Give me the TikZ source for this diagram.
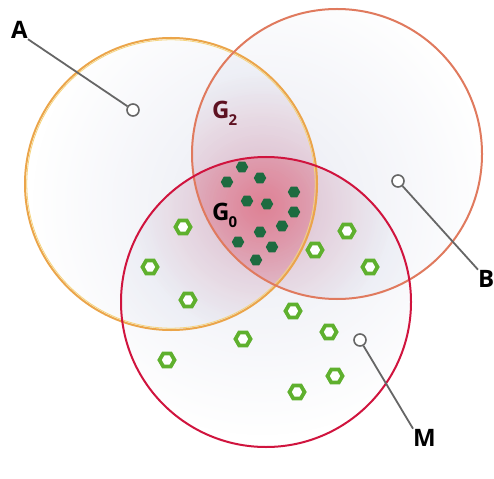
\documentclass[tikz,border=0pt]{standalone}
\usepackage{fontspec}
\setsansfont{Open Sans}
\usetikzlibrary{shapes.geometric,fadings}
\tikzfading[name=softglow, inner color=transparent!0, outer color=transparent!100]
\definecolor{ringA}{HTML}{EBA54A}
\definecolor{ringAin}{HTML}{F5D47E}
\definecolor{ringB}{HTML}{E07A5E}
\definecolor{ringM}{HTML}{D0143E}
\definecolor{lav}{HTML}{C9CDE2}
\definecolor{glowpink}{HTML}{E8485E}
\definecolor{darkdot}{HTML}{1D6B40}
\definecolor{lightdot}{HTML}{5FB02E}
\definecolor{leadgray}{HTML}{666666}
\definecolor{maroon}{HTML}{5E1222}
\begin{document}
\begin{tikzpicture}[x=1pt,y=-1pt,
  ring/.style={line width=2pt},
  darkhex/.style={regular polygon, regular polygon sides=6, fill=darkdot, draw=none, minimum size=12.5pt, inner sep=0pt},
  lighthex/.style={regular polygon, regular polygon sides=6, fill=white, draw=lightdot, line width=3.8pt, minimum size=15pt, inner sep=0pt},
  pin/.style={circle, draw=leadgray, line width=1.6pt, fill=white, minimum size=12pt, inner sep=0pt},
  lead/.style={draw=leadgray, line width=1.8pt},
  lbl/.style={font=\sffamily\bfseries\fontsize{24}{24}\selectfont, inner sep=0pt}]
\useasboundingbox (0,0) rectangle (494,478);
\fill[white] (0,0) rectangle (494,478);
\def\cA{(171,184) circle (146pt)}
\def\cB{(337,154) circle (145pt)}
\def\cM{(266,302) circle (145pt)}
% soft lavender tint inside each circle
\begin{scope}\clip \cA; \fill[lav, path fading=softglow, fill opacity=0.4] (262,205) circle (230pt); \end{scope}
\begin{scope}\clip \cB; \fill[lav, path fading=softglow, fill opacity=0.4] (262,205) circle (230pt); \end{scope}
\begin{scope}\clip \cM; \fill[lav, path fading=softglow, fill opacity=0.4] (262,205) circle (230pt); \end{scope}
% pink glow in the overlaps
\begin{scope}\clip \cA; \clip \cB; \fill[glowpink, path fading=softglow, fill opacity=0.28] (262,205) circle (130pt); \end{scope}
\begin{scope}\clip \cA; \clip \cM; \fill[glowpink, path fading=softglow, fill opacity=0.25] (262,205) circle (130pt); \end{scope}
\begin{scope}\clip \cB; \clip \cM; \fill[glowpink, path fading=softglow, fill opacity=0.25] (262,205) circle (130pt); \end{scope}
% rings
\draw[ring, ringA] \cA;
\draw[ringAin, line width=0.8pt] (171,184) circle (144.2pt);
\draw[ring, ringB] \cB;
\draw[ring, ringM] \cM;
% dark hexagons (G0)
\foreach \p [count=\i] in {(242,167),(260,178),(227,182),(294,192),(247,201),(267,204),(294,212),(282,226),(260,232),(238,242),(272,247),(256,260)}
  \node[darkhex] (d\i) at \p {};
% light hexagons
\foreach \p [count=\i] in {(183,227),(150,267),(188,300),(315,250),(347,231),(370,267),(293,311),(329,332),(243,339),(167,360),(335,376),(297,392)}
  \node[lighthex] (h\i) at \p {};
% labels
\node[lbl, anchor=base west] (A) at (11,39) {A};
\node[lbl, anchor=base west] (B) at (478,287) {B};
\node[lbl, anchor=base west] (M) at (413,446) {M};
\node[lbl, anchor=base west, text=maroon] (G2) at (212,119) {G\kern-1pt\raisebox{-7pt}{\fontsize{15}{15}\selectfont 2}};
\node[lbl, anchor=base west, text=black] (G0) at (212,220) {G\kern-1pt\raisebox{-7pt}{\fontsize{15}{15}\selectfont 0}};
% pins and leaders
\node[pin] (pa) at (133,110) {};
\node[pin] (pb) at (398,181) {};
\node[pin] (pm) at (360,340) {};
\draw[lead] (A.south east) -- (pa);
\draw[lead] (B.north west) -- (pb);
\draw[lead] (M.north west) -- (pm);
\end{tikzpicture}
\end{document}
